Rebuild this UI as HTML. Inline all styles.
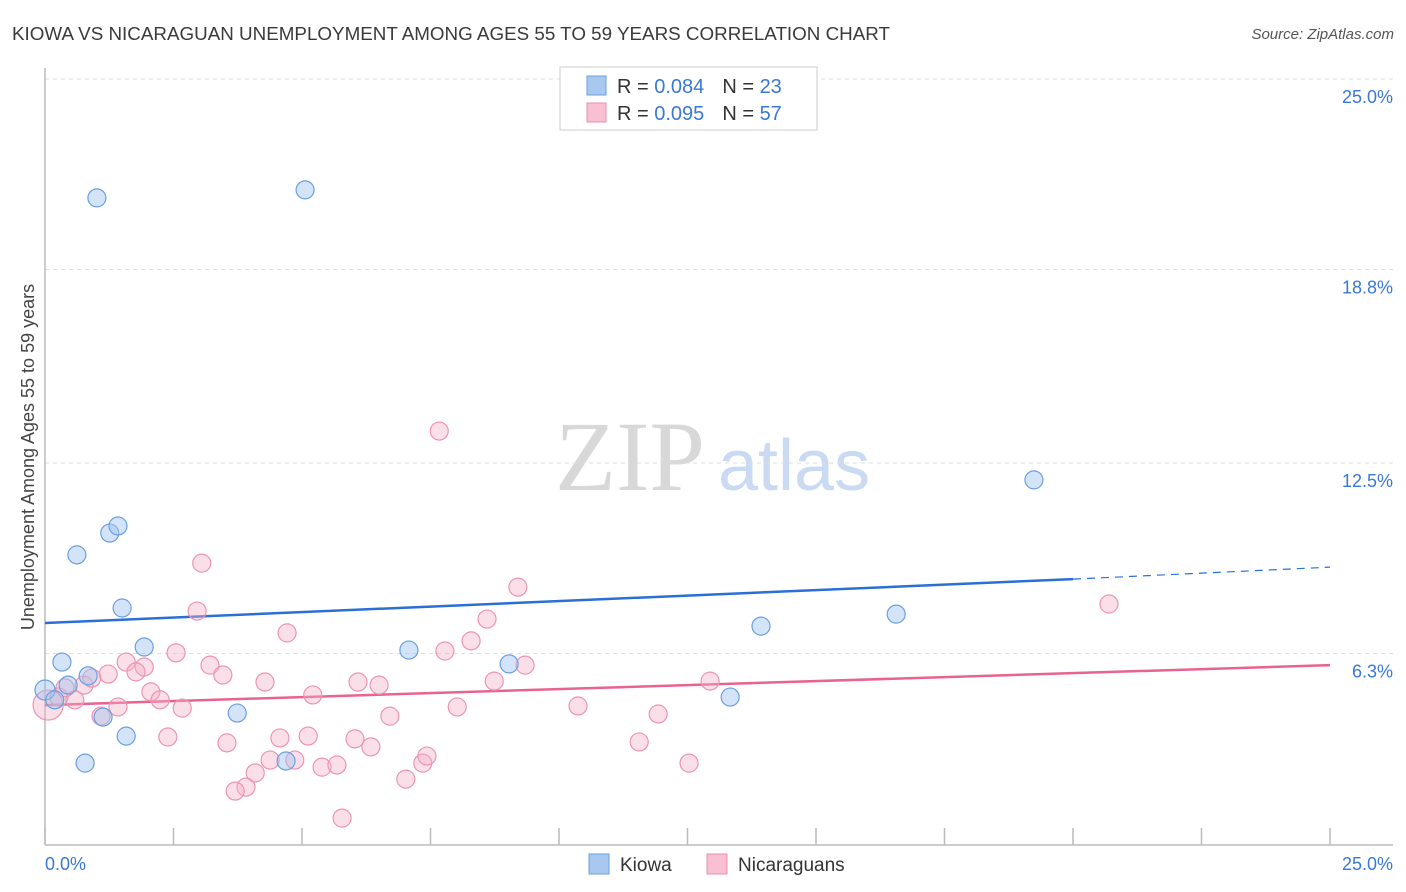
<!DOCTYPE html>
<html><head><meta charset="utf-8"><style>
body{margin:0;background:#fff;font-family:"Liberation Sans",sans-serif;}
svg{display:block}
</style></head><body>
<svg id="chart" width="1406" height="892" viewBox="0 0 1406 892" xmlns="http://www.w3.org/2000/svg">
<text x="12" y="40" font-size="18" fill="#3a3a3a" textLength="878" lengthAdjust="spacingAndGlyphs">KIOWA VS NICARAGUAN UNEMPLOYMENT AMONG AGES 55 TO 59 YEARS CORRELATION CHART</text>
<text x="1394" y="39" font-size="15" fill="#555" font-style="italic" text-anchor="end">Source: ZipAtlas.com</text>
<g>
<text x="555" y="490" font-size="100" font-family="Liberation Serif,serif" fill="#d8d8d8">ZIP</text>
<text x="718" y="490" font-size="72" fill="#c9daf2">atlas</text>
</g>
<g id="grid"></g>
<g id="axes"></g>
<text transform="translate(34,457) rotate(-90)" font-size="18" fill="#444" text-anchor="middle">Unemployment Among Ages 55 to 59 years</text>
<g id="trends"></g>
<g id="points"></g>
<g>
<rect x="560" y="67" width="257" height="63" fill="#fff" stroke="#ccc"/>
<rect x="587" y="76" width="19" height="19" fill="#a8c8f0" stroke="#6a9fe0"/>
<rect x="587" y="103" width="19" height="19" fill="#f8c0d2" stroke="#e890ae"/>
<text x="617" y="93" font-size="20" fill="#333">R = <tspan fill="#3a78d8">0.084</tspan><tspan dx="18">N = </tspan><tspan fill="#3a78d8">23</tspan></text>
<text x="617" y="120" font-size="20" fill="#333">R = <tspan fill="#3a78d8">0.095</tspan><tspan dx="18">N = </tspan><tspan fill="#3a78d8">57</tspan></text>
</g>
<g>
<rect x="589" y="854" width="20" height="20" fill="#a8c8f0" stroke="#6a9fe0"/>
<text x="620" y="871" font-size="19" fill="#333">Kiowa</text>
<rect x="707" y="854" width="20" height="20" fill="#f8c0d2" stroke="#e890ae"/>
<text x="738" y="871" font-size="19" fill="#333">Nicaraguans</text>
</g>
</svg>
<script>
const kiowaX=[1.01,5.06,0.62,1.26,1.42,1.50,1.93,0.33,0.84,0.45,0,0.19,1.13,1.58,0.78,3.74,4.69,7.08,9.03,13.33,13.93,16.56,19.24];
const kiowaY=[21.13,21.39,9.51,10.22,10.45,7.78,6.51,6.02,5.57,5.27,5.11,4.79,4.23,3.61,2.73,4.36,2.80,6.41,5.96,4.88,7.19,7.58,11.95];
const nicX=[7.67,9.20,3.05,20.70,8.60,2.96,4.71,8.29,7.78,2.55,1.58,1.93,3.21,1.23,1.77,3.46,9.34,0.76,0.91,4.28,6.09,6.50,8.74,12.94,2.06,5.21,2.24,0.06,0.58,1.42,2.67,8.02,10.37,1.09,6.71,11.93,2.39,3.54,4.57,5.12,6.03,6.34,11.56,4.38,4.86,7.35,7.43,12.53,5.39,5.68,4.09,7.02,3.91,3.70,5.78,0.27,0.39];
const nicY=[13.54,8.46,9.24,7.91,7.42,7.68,6.97,6.71,6.38,6.32,6.02,5.86,5.92,5.63,5.70,5.60,5.92,5.27,5.50,5.37,5.37,5.27,5.40,5.40,5.05,4.95,4.79,4.62,4.79,4.56,4.52,4.56,4.59,4.26,4.26,4.33,3.58,3.39,3.55,3.61,3.52,3.26,3.42,2.83,2.83,2.73,2.96,2.73,2.60,2.67,2.41,2.21,1.95,1.82,0.94,4.88,5.18];
const yTicks=[25.0,18.8,12.5,6.3];
const yTickLabels=["25.0%","18.8%","12.5%","6.3%"];
const kiowaTrend=[7.29,8.72,9.11]; // at x=0, 20 (solid end), 25
const nicTrend=[4.62,5.92]; // at x=0, 25
const NS="http://www.w3.org/2000/svg";
const X0=45,X1=1330,Y0=847,YT=79;
const sx=v=>X0+(v/25)*(X1-X0);
const sy=v=>Y0-(v/25)*(Y0-YT);
function mk(tag,attrs,parent){const e=document.createElementNS(NS,tag);for(const k in attrs)e.setAttribute(k,attrs[k]);parent.appendChild(e);return e;}
const grid=document.getElementById('grid');
yTicks.forEach((t,i)=>{
 const l=mk('line',{x1:X0,x2:1393,y1:sy(t),y2:sy(t),stroke:'#ddd','stroke-dasharray':'4,4'},grid);
 
 
 const tx=mk('text',{x:1393,y:sy(t)+24,'font-size':18,fill:'#3a78d8','text-anchor':'end'},grid);
 tx.textContent=yTickLabels[i];
 
 
});
const axes=document.getElementById('axes');
mk('line',{x1:X0,x2:X0,y1:68,y2:845,stroke:'#bbb','stroke-width':1.5},axes);
mk('line',{x1:X0,x2:1393,y1:845,y2:845,stroke:'#bbb','stroke-width':1.5},axes);
for(let i=0;i<=10;i++){const x=sx(i*2.5);const t=mk('line',{x1:x,x2:x,y1:828,y2:845,stroke:'#bbb','stroke-width':1.5},axes);
 
 }
const xl0=mk('text',{x:45,y:870,'font-size':18,fill:'#3a78d8'},axes);xl0.textContent='0.0%';


const xl1=mk('text',{x:1393,y:870,'font-size':18,fill:'#3a78d8','text-anchor':'end'},axes);xl1.textContent='25.0%';


const pts=document.getElementById('points');
nicX.forEach((x,i)=>{const c=mk('circle',{cx:sx(x),cy:sy(nicY[i]),r:i===27?15:9,fill:'rgba(245,175,198,0.4)',stroke:'#ec94b2','stroke-width':1.2},pts);
 
 });
kiowaX.forEach((x,i)=>{const c=mk('circle',{cx:sx(x),cy:sy(kiowaY[i]),r:i===10?10:9,fill:'rgba(160,196,240,0.45)',stroke:'#6a9fe0','stroke-width':1.2},pts);
 
 });
const tr=document.getElementById('trends');
const k1=mk('line',{x1:sx(0),y1:sy(kiowaTrend[0]),x2:sx(20),y2:sy(kiowaTrend[1]),stroke:'#2a6fd6','stroke-width':2.5},tr);


const k2=mk('line',{x1:sx(20),y1:sy(kiowaTrend[1]),x2:sx(25),y2:sy(kiowaTrend[2]),stroke:'#2a6fd6','stroke-width':1.2,'stroke-dasharray':'8,6'},tr);


const n1=mk('line',{x1:sx(0),y1:sy(nicTrend[0]),x2:sx(25),y2:sy(nicTrend[1]),stroke:'#e8638f','stroke-width':2.5},tr);


</script>
</body></html>
